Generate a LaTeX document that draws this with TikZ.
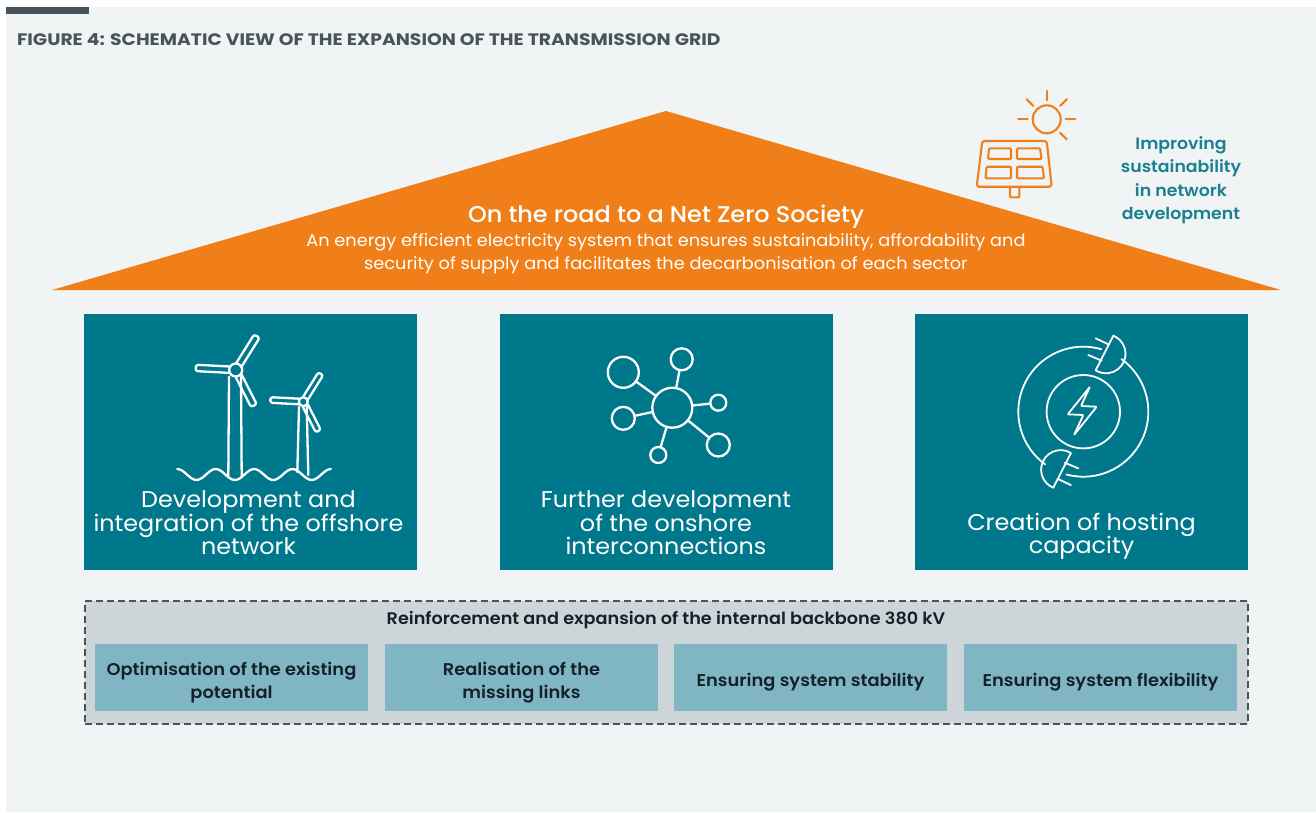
\documentclass[tikz,border=0pt]{standalone}
\usepackage{fontspec}
\usepackage{xcolor}
\setmainfont[FakeStretch=1.05]{Poppins}
\newfontfamily\medfont[FakeStretch=1.05]{Poppins Medium}
\newfontfamily\semifont[FakeStretch=1.05]{Poppins SemiBold}
\newfontfamily\titlefont[FakeStretch=1.13]{Poppins Bold}
\definecolor{panelgrey}{HTML}{F0F4F5}
\definecolor{slate}{HTML}{47555B}
\definecolor{roofOrange}{HTML}{F07F19}
\definecolor{petrol}{HTML}{00788C}
\definecolor{frameGrey}{HTML}{CED5D8}
\definecolor{paleTeal}{HTML}{80B6C3}
\definecolor{labelTeal}{HTML}{1B8090}
\definecolor{inkText}{HTML}{14202A}
\tikzset{
  pillar/.style={fill=petrol,minimum width=333pt,minimum height=256pt,inner sep=0pt},
  pillartext/.style={white,align=center,inner sep=0pt,font=\fontsize{22.75}{23.5}\selectfont},
  roofhead/.style={white,inner sep=0pt,font=\fontsize{22.8}{24}\selectfont\medfont},
  rooftext/.style={white,align=center,inner sep=0pt,font=\fontsize{16.9}{23}\selectfont},
  measure/.style={fill=paleTeal,minimum width=273pt,minimum height=67pt,inner sep=0pt},
  measuretext/.style={text=inkText,align=center,inner sep=0pt,font=\fontsize{17}{23.5}\selectfont\semifont},
  iconline/.style={white,line width=2.3pt,line cap=round,line join=round},
  plugline/.style={white,line width=1.8pt,line cap=round,line join=round},
  sunline/.style={roofOrange,line width=2.1pt,line cap=round,line join=round},
  dot/.style={circle,draw=white,line width=2.3pt,inner sep=0pt}
}
\begin{document}
\begin{tikzpicture}[x=1pt,y=-1pt]
\useasboundingbox (0,0) rectangle (1316,812);
\fill[panelgrey] (6,7) rectangle (1316,812); % panel
\fill[slate] (6,7) rectangle (89,14);
\node[anchor=base west,inner sep=0pt,slate,font=\fontsize{16.6}{18}\selectfont\titlefont] (title) at (17,45)
  {FIGURE 4: SCHEMATIC VIEW OF THE EXPANSION OF THE TRANSMISSION GRID};

% roof
\fill[roofOrange] (52,290) -- (666,111) -- (1281,290) -- cycle;
\node[roofhead] (roofhead) at (666,216.5) {On the road to a Net Zero Society};
\node[rooftext] (rooftext) at (666,254) {An energy efficient electricity system that ensures sustainability, affordability and\\security of supply and facilitates the decarbonisation of each sector};

% solar panel and sun
\draw[sunline,rounded corners=2.5pt] (982.3,141) -- (1046.7,141) -- (1051.7,186.7) -- (976.7,186.7) -- cycle;
\draw[sunline,rounded corners=1pt] (989,148.3) -- (1011,148.3) -- (1011,159) -- (988,159) -- cycle;
\draw[sunline,rounded corners=1pt] (1017,148.3) -- (1040,148.3) -- (1041.5,159) -- (1017,159) -- cycle;
\draw[sunline,rounded corners=1pt] (986.5,166.7) -- (1011,166.7) -- (1011,178.3) -- (985.5,178.3) -- cycle;
\draw[sunline,rounded corners=1pt] (1017,166.7) -- (1042.5,166.7) -- (1044,178.3) -- (1017,178.3) -- cycle;
\draw[sunline,rounded corners=1pt] (1010,187) -- (1010,197.3) -- (1019.3,197.3) -- (1019.3,187);
\draw[sunline] (1046.7,119.3) circle (14);
\foreach \ang in {0,45,90,135,180,-45}
  \draw[sunline,shift={(1046.7,119.3)}] (\ang:19pt) -- (\ang:28.5pt);
\node[labelTeal,align=center,inner sep=0pt,font=\fontsize{16.5}{23.3}\selectfont\semifont] (sustain) at (1181,180.2)
  {Improving\\sustainability\\in network\\development};

% three pillars
\node[pillar] (offshore) at (250.5,442) {};
\node[pillar] (onshore) at (666.5,442) {};
\node[pillar] (hosting) at (1081.5,442) {};
\node[pillartext] (offshoretext) at (248.5,523) {Development and\\integration of the offshore\\network};
\node[pillartext] (onshoretext) at (666,523) {Further development\\of the onshore\\interconnections};
\node[pillartext] (hostingtext) at (1081.5,536.5) {Creation of hosting\\capacity};

% wind turbines
\foreach \hubx/\huby/\hubr/\len/\wid in {235.7/370/6.5/40/3.2,303.3/401.7/4.5/33/2.8}
  \foreach \ang in {58,177,-63}
    \draw[iconline,rounded corners=2.4pt,shift={(\hubx,\huby)},rotate=\ang]
      (\hubr,-\wid) -- (\len,-\wid) -- (\len,\wid) -- (\hubr,\wid);
\draw[iconline] (235.7,370) circle (6.5);
\draw[iconline] (303.3,401.7) circle (4.5);
\draw[iconline] (229,376.7) -- (228.3,477);
\draw[iconline] (241,376.7) -- (241.7,477);
\draw[iconline] (299,407) -- (297.3,472);
\draw[iconline] (306.7,407) -- (308.3,475);
\draw[iconline] (177.3,469)
  \foreach \wave in {0,1,2,3} { cos ++(9.6,5.5) sin ++(9.6,5.5) cos ++(9.6,-5.5) sin ++(9.6,-5.5) };

% network
\node[dot,minimum size=40pt] (netHub) at (672.3,407.7) {};
\foreach \sat/\px/\py/\size in {satA/623.3/372.3/31,satB/681.7/359.3/22,satC/718.3/402.7/16,satD/718.3/445/23,satE/658.3/455/16,satF/623.3/418.3/23} {
  \node[dot,minimum size=\size pt] (\sat) at (\px,\py) {};
  \draw[iconline] (netHub) -- (\sat);
}

% plugs and bolt
\draw[plugline] (1083.3,411.7) circle (36.7);
\draw[plugline,shift={(1083.3,411.7)}] (74:65pt) arc (74:234:65pt);
\draw[plugline,shift={(1083.3,411.7)}] (54:65pt) arc (54:-105:65pt);
\foreach \rot in {0,180} {
  \begin{scope}[shift={(1083.3,411.7)},rotate=\rot]
    \draw[plugline] (30,-76) arc (68:-122:19.5pt) -- cycle;
    \draw[plugline] (12.4,-73.4) -- (25,-67.4);
    \draw[plugline] (5,-56.7) -- (18.4,-51);
  \end{scope}
}
\draw[plugline,rounded corners=0.8pt] (1090,386.7) -- (1067.7,414.3) -- (1083.3,415) -- (1074,435) -- (1096.7,406.7) -- (1081,406) -- cycle;

% backbone frame
\node[fill=frameGrey,draw=slate,line width=2.5pt,dash pattern=on 7pt off 4pt,minimum width=1163pt,minimum height=123pt,inner sep=0pt] (frame) at (666.5,662.5) {};
\node[text=inkText,inner sep=0pt,font=\fontsize{16.8}{20}\selectfont\semifont] (frametext) at (666,620.5) {Reinforcement and expansion of the internal backbone 380 kV};
\node[measure] (existing) at (231.5,677.5) {};
\node[measure] (links) at (521.5,677.5) {};
\node[measure] (stability) at (810.5,677.5) {};
\node[measure] (flexibility) at (1100.5,677.5) {};
\node[measuretext] (existingtext) at (231.5,682.5) {Optimisation of the existing\\potential};
\node[measuretext] (linkstext) at (521.5,682.5) {Realisation of the\\missing links};
\node[measuretext] (stabilitytext) at (810.5,682.5) {Ensuring system stability};
\node[measuretext] (flexibilitytext) at (1100.5,682.5) {Ensuring system flexibility};
\end{tikzpicture}
\end{document}
